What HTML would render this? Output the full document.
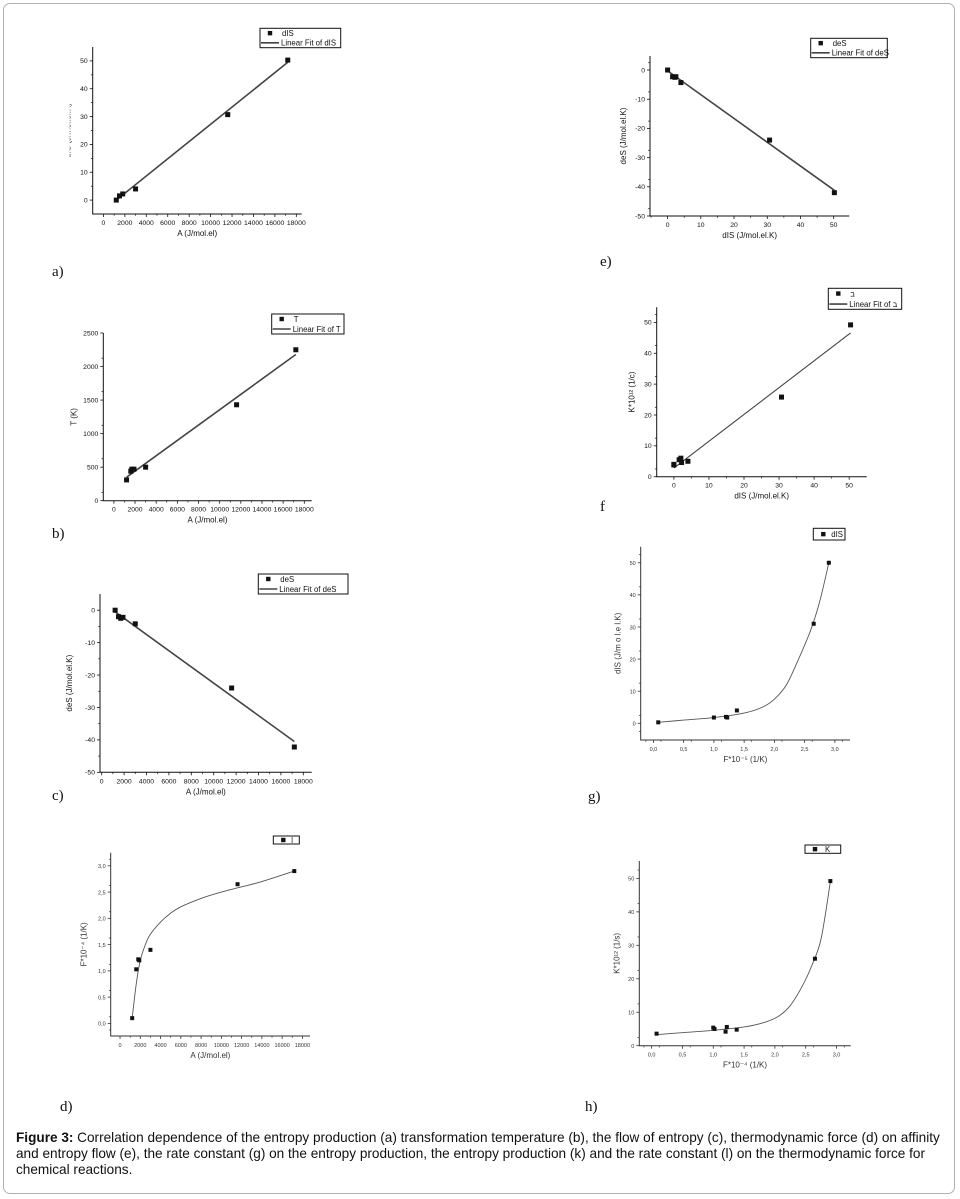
<!DOCTYPE html>
<html><head><meta charset="utf-8">
<style>
html,body{margin:0;padding:0;background:#fff;}
#wrap{position:relative;width:960px;height:1199px;overflow:hidden;font-family:"Liberation Sans",sans-serif;}
#frame{position:absolute;left:3px;top:3px;width:952px;height:1191px;border:1px solid #b0b0b0;border-radius:7px;box-sizing:border-box;}
.plab{position:absolute;font-family:"Liberation Serif",serif;font-size:15px;color:#111;}
#caption{position:absolute;left:16px;top:1130px;width:934px;font-family:"Liberation Sans",sans-serif;font-size:13.6px;line-height:16px;color:#111;}
svg text{font-family:"Liberation Sans",sans-serif;}
</style></head>
<body>
<div id="wrap">
<div id="frame"></div>
<svg id="svg" width="960" height="1199" style="position:absolute;left:0;top:0"></svg>
<div class="plab" style="left:52px;top:264px">a)</div>
<div class="plab" style="left:52px;top:526px">b)</div>
<div class="plab" style="left:52px;top:788px">c)</div>
<div class="plab" style="left:60px;top:1099px">d)</div>
<div class="plab" style="left:600px;top:254px">e)</div>
<div class="plab" style="left:600px;top:499px">f</div>
<div class="plab" style="left:588px;top:789px">g)</div>
<div class="plab" style="left:585px;top:1099px">h)</div>
<div id="caption"><b>Figure 3:</b> Correlation dependence of the entropy production (a) transformation temperature (b), the flow of entropy (c), thermodynamic force (d) on affinity and entropy flow (e), the rate constant (g) on the entropy production, the entropy production (k) and the rate constant (l) on the thermodynamic force for chemical reactions.</div>
</div>
<script>
// ---- data ----
const aX = [1200, 1500, 1800, 3000, 11600, 17200];
const aY = [0, 1.5, 2.2, 4, 30.7, 50.3];
const aFitX = [1200, 17200];
const aFitY = [0, 49.5];
const bX = [1200, 1600, 1700, 1900, 3000, 11600, 17200];
const bY = [310, 440, 470, 470, 500, 1430, 2250];
const bFitX = [1200, 17200];
const bFitY = [350, 2180];
const cX = [1200, 1500, 1700, 1900, 3000, 11600, 17200];
const cY = [0, -2, -2.5, -2.2, -4.2, -24, -42.2];
const cFitX = [1200, 17200];
const cFitY = [-0.5, -40.5];
const dX = [1200, 1600, 1800, 1900, 3000, 11600, 17200];
const dY = [0.1, 1.03, 1.22, 1.2, 1.4, 2.65, 2.9];
const dCurveX = [1200, 1600, 2000, 2500, 3000, 4000, 5000, 6000, 8000, 10000, 12000, 14000, 17200];
const dCurveY = [0.1, 0.75, 1.2, 1.5, 1.7, 1.93, 2.1, 2.22, 2.38, 2.5, 2.6, 2.7, 2.9];
const eX = [0, 1.5, 2.2, 2.5, 4, 30.7, 50.2];
const eY = [0, -2.3, -2.5, -2.3, -4.3, -24, -42];
const eFitX = [0, 50.2];
const eFitY = [-0.3, -41.2];
const fX = [0, 0, 1.5, 2, 2.2, 4, 30.7, 50.4];
const fY = [3.8, 4, 5.5, 6, 4.6, 5, 25.8, 49.2];
const fFitX = [0, 50.4];
const fFitY = [2.8, 46.6];
const gX = [0.08, 1.0, 1.2, 1.22, 1.38, 2.65, 2.9];
const gY = [0.3, 1.8, 2, 1.8, 4, 31, 50];
const gCurveX = [0.08, 0.5, 1.0, 1.5, 1.8, 2.0, 2.2, 2.4, 2.6, 2.75, 2.9];
const gCurveY = [0.3, 1.0, 1.8, 3.2, 5, 7.5, 12, 20, 29, 38, 50];
const hX = [0.08, 1.0, 1.02, 1.2, 1.22, 1.38, 2.65, 2.9];
const hY = [3.6, 5.4, 5, 4.2, 5.6, 4.8, 26, 49.2];
const hCurveX = [0.08, 0.5, 1.0, 1.5, 1.8, 2.05, 2.25, 2.45, 2.6, 2.75, 2.9];
const hCurveY = [3.3, 3.9, 4.6, 5.6, 6.8, 8.7, 12, 18, 24, 32, 49];
const ticksA = [0,2000,4000,6000,8000,10000,12000,14000,16000,18000];
const ticksA2 = [0,2000,4000,6000,8000,10000,12000,14000,16000,18000];
const ticksF = [0,0.5,1.0,1.5,2.0,2.5,3.0];
const ticksFLabels = ["0,0","0,5","1,0","1,5","2,0","2,5","3,0"];

const NS = "http://www.w3.org/2000/svg";
const svg = document.getElementById('svg');
function mk(tag, attrs, parent, txt){
  const e = document.createElementNS(NS, tag);
  for (const k in attrs) e.setAttribute(k, attrs[k]);
  if (txt !== undefined) e.textContent = txt;
  (parent||svg).appendChild(e);
  return e;
}
function panel(p){
  const g = mk('g', {});
  
  
  const sx = v => p.L + (v - p.xr[0])/(p.xr[1]-p.xr[0])*(p.R-p.L);
  const sy = v => p.B - (v - p.yr[0])/(p.yr[1]-p.yr[0])*(p.B-p.T);
  const col = p.col || '#111';
  const ax = mk('path', {d:`M${p.L},${p.T}V${p.B}H${p.R}`, stroke:col, 'stroke-width':1, fill:'none'}, g);
  
  
  p.xt.forEach((v,i)=>{
    const x = sx(v);
    mk('line',{x1:x,y1:p.B,x2:x,y2:p.B+3,stroke:col,'stroke-width':0.8},g);
    const mx = sx(v + p.xstep/2);
    if (mx < p.R) mk('line',{x1:mx,y1:p.B,x2:mx,y2:p.B+1.8,stroke:col,'stroke-width':0.7},g);
    const mx2 = sx(v - p.xstep/2);
    if (i===0 && mx2 > p.L) mk('line',{x1:mx2,y1:p.B,x2:mx2,y2:p.B+1.8,stroke:col,'stroke-width':0.7},g);
    const t = mk('text',{x:x,y:p.B+11,'font-size':p.fs||6.8,'text-anchor':'middle',fill:col},g,p.xl?p.xl[i]:String(v));
    
    
  });
  p.yt.forEach((v,i)=>{
    const y = sy(v);
    mk('line',{x1:p.L-3,y1:y,x2:p.L,y2:y,stroke:col,'stroke-width':0.8},g);
    [v+p.ystep/2, v-p.ystep/2].forEach(m=>{
      const my = sy(m);
      if (my > p.T && my < p.B && (m > v || i===0)) mk('line',{x1:p.L-1.8,y1:my,x2:p.L,y2:my,stroke:col,'stroke-width':0.7},g);
    });
    const t = mk('text',{x:p.L-5,y:y+2.3,'font-size':p.fs||6.8,'text-anchor':'end',fill:col},g,p.yl?p.yl[i]:String(v));
    
    
  });
  const xt = mk('text',{x:(p.L+p.R)/2,y:p.B+22,'font-size':8,'text-anchor':'middle',fill:col},g,p.xtitle);
  
  
  const yx = p.L - (p.ytoff||22), yy = (p.T+p.B)/2;
  const yt = mk('text',{x:yx,y:yy,'font-size':8,'text-anchor':'middle',fill:col,transform:`rotate(-90 ${yx} ${yy})`},g,p.ytitle);
  
  
  if (p.clipY) mk('rect',{x:yx-10,y:p.T,width:9,height:p.B-p.T,fill:'#fff'},g);
  if (p.fx){
    let d='';
    if (p.fx.length===2){
      d=`M${sx(p.fx[0])},${sy(p.fy[0])}L${sx(p.fx[1])},${sy(p.fy[1])}`;
    } else {
      const pts = p.fx.map((v,i)=>[sx(v),sy(p.fy[i])]);
      d=`M${pts[0][0]},${pts[0][1]}`;
      for(let i=0;i<pts.length-1;i++){
        const p0=pts[Math.max(0,i-1)],p1=pts[i],p2=pts[i+1],p3=pts[Math.min(pts.length-1,i+2)];
        const c1=[p1[0]+(p2[0]-p0[0])/6,p1[1]+(p2[1]-p0[1])/6];
        const c2=[p2[0]-(p3[0]-p1[0])/6,p2[1]-(p3[1]-p1[1])/6];
        d+=`C${c1[0]},${c1[1]} ${c2[0]},${c2[1]} ${p2[0]},${p2[1]}`;
      }
    }
    const fl = mk('path',{d:d,stroke:p.fcol||'#444','stroke-width':p.fw||1.6,fill:'none'},g);
    
    
  }
  const ms = p.ms||5;
  p.x.forEach((v,i)=>{
    const r = mk('rect',{x:sx(v)-ms/2,y:sy(p.y[i])-ms/2,width:ms,height:ms,fill:'#111'},g);
    
    
  });
  const lg = p.lg;
  const lgg = mk('g',{},g);
  
  
  mk('rect',{x:lg[0],y:lg[1],width:lg[2]-lg[0],height:lg[3]-lg[1],fill:'#fff',stroke:'#111','stroke-width':1},lgg);
  const rows = p.lt.length;
  const rh = (lg[3]-lg[1])/rows;
  p.lt.forEach((t,i)=>{
    const cy = lg[1]+rh*(i+0.5);
    if (i===0) mk('rect',{x:lg[0]+10-2.2,y:cy-2.2,width:4.4,height:4.4,fill:'#111'},lgg);
    else mk('line',{x1:lg[0]+1,y1:cy,x2:lg[0]+19,y2:cy,stroke:'#444','stroke-width':1.6},lgg);
    mk('text',{x:lg[0]+ (i===0? (p.lx||22):21),y:cy+2.8,'font-size':7.8,fill:'#111'},lgg,t);
  });
}
const panels = [
 {name:'panel-a-dis-vs-a',L:92.7,R:301.7,T:47,B:214,xr:[-1000,18500],yr:[-5,55],xt:ticksA,xstep:2000,yt:[0,10,20,30,40,50],ystep:10,x:aX,y:aY,fx:aFitX,fy:aFitY,xtitle:'A (J/mol.el)',ytitle:'dIS (J/mol.el.K)',ytoff:22,clipY:true,lg:[260,28.3,340.7,47.7],lt:['dIS','Linear Fit of dIS']},
 {name:'panel-b-t-vs-a',L:103.3,R:311.7,T:333,B:500.7,xr:[-1000,18700],yr:[0,2500],xt:ticksA,xstep:2000,yt:[0,500,1000,1500,2000,2500],ystep:250,x:bX,y:bY,fx:bFitX,fy:bFitY,xtitle:'A (J/mol.el)',ytitle:'T (K)',ytoff:27,lg:[271.7,314,344,334],lt:['T','Linear Fit of T']},
 {name:'panel-c-des-vs-a',L:100,R:311.7,T:594,B:772.3,xr:[-150,18750],yr:[-50,5],xt:ticksA,xstep:2000,yt:[-50,-40,-30,-20,-10,0],ystep:10,x:cX,y:cY,fx:cFitX,fy:cFitY,xtitle:'A (J/mol.el)',ytitle:'deS (J/mol.el.K)',ytoff:28,lg:[258.3,574,348,594],lt:['deS','Linear Fit of deS']},
 {name:'panel-d-f-vs-a',L:110.7,R:310,T:852.7,B:1036,xr:[-920,18750],yr:[-0.24,3.25],xt:ticksA2,xstep:2000,yt:[0,0.5,1.0,1.5,2.0,2.5,3.0],yl:["0,0","0,5","1,0","1,5","2,0","2,5","3,0"],ystep:0.25,x:dX,y:dY,fx:dCurveX,fy:dCurveY,fw:0.9,fcol:'#555',ms:4,col:'#333',fs:5.5,xtitle:'A (J/mol.el)',ytitle:'F*10⁻⁴ (1/K)',ytoff:24,lg:[273.3,836,299.3,844],lt:['l'],lx:18},
 {name:'panel-e-des-vs-dis',L:650,R:849.3,T:56,B:216,xr:[-5.3,54.7],yr:[-50,4.8],xt:[0,10,20,30,40,50],xstep:10,yt:[-50,-40,-30,-20,-10,0],ystep:5,x:eX,y:eY,fx:eFitX,fy:eFitY,xtitle:'dIS (J/mol.el.K)',ytitle:'deS (J/mol.el.K)',ytoff:24,lg:[810.7,38.3,887.3,57.7],lt:['deS','Linear Fit of deS']},
 {name:'panel-f-k-vs-dis',L:656.7,R:866.7,T:307.3,B:476.7,xr:[-4.9,55],yr:[0,54.9],xt:[0,10,20,30,40,50],xstep:10,yt:[0,10,20,30,40,50],ystep:5,x:fX,y:fY,fx:fFitX,fy:fFitY,fw:1.1,xtitle:'dIS (J/mol.el.K)',ytitle:'K*10¹² (1/c)',ytoff:22,lg:[828.3,288.3,901.7,309.3],lt:['ב','Linear Fit of ב']},
 {name:'panel-g-dis-vs-f',L:640.7,R:850,T:546.7,B:740,xr:[-0.21,3.25],yr:[-5.2,55],xt:ticksF,xl:ticksFLabels,xstep:0.25,yt:[0,10,20,30,40,50],ystep:5,x:gX,y:gY,fx:gCurveX,fy:gCurveY,fw:0.9,fcol:'#555',ms:4,col:'#333',fs:5.5,xtitle:'F*10⁻⁵ (1/K)',ytitle:'dIS (J/m o l.e l.K)',ytoff:20,lg:[813.3,528.3,845,540],lt:['dIS'],lx:18},
 {name:'panel-h-k-vs-f',L:639.3,R:850.7,T:861,B:1045.7,xr:[-0.2,3.23],yr:[0,55.2],xt:ticksF,xl:ticksFLabels,xstep:0.25,yt:[0,10,20,30,40,50],ystep:5,x:hX,y:hY,fx:hCurveX,fy:hCurveY,fw:0.9,fcol:'#555',ms:4,col:'#333',fs:5.5,xtitle:'F*10⁻⁴ (1/K)',ytitle:'K*10¹² (1/s)',ytoff:20,lg:[805,845,840.7,853.3],lt:['K'],lx:20}
];
panels.forEach(panel);
</script>
</body></html>
